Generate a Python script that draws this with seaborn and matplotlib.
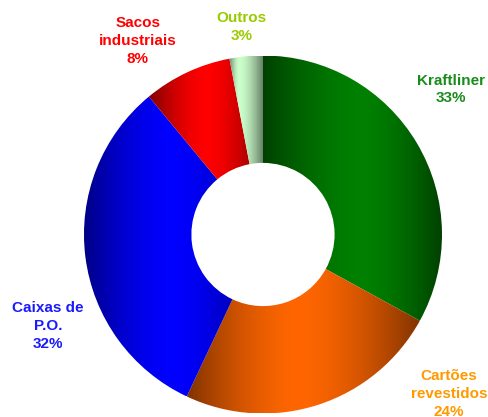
import numpy as np
import matplotlib
matplotlib.use("Agg")
import matplotlib.pyplot as plt
import matplotlib.colors as mcolors
import seaborn as sns

# dados
segments = ["Kraftliner", "Cartões\nrevestidos", "Caixas de\nP.O.", "Sacos\nindustriais", "Outros"]
shares = [33, 24, 32, 8, 3]

# estilo
fill_colors = ["#008000", "#ff6600", "#0000ff", "#ff0000", "#ccffcc"]
label_colors = ["#1a8c1a", "#ff9900", "#1a1aff", "#ff0000", "#99cc00"]
gradient_peak = [0.55, 0.48, 0.5, 0.5, 0.3]
# posicao dos rotulos (raio externo = 1)
label_pos = [(1.05, 0.81), (1.04, -0.89), (-1.20, -0.51), (-0.70, 1.08), (-0.12, 1.16)]

sns.set_theme(style="white")
plt.rcParams['font.family'] = ['Liberation Sans', 'DejaVu Sans']


def shade(color, peak, n=256):
    # gradiente horizontal: escuro nas bordas, claro no pico
    t = np.linspace(0, 1, n)
    d = np.where(t < peak, (peak - t) / peak, (t - peak) / (1 - peak))
    f = 1 - 0.5 * d ** 1.6
    rgb = np.array(mcolors.to_rgb(color))
    return (rgb[None, :] * f[:, None])[None, :, :]


fig = plt.figure(figsize=(4.88, 4.17), dpi=100)
ax = fig.add_axes([0.1721, 0.0084, 0.7336, 0.8585])

wedges, _ = ax.pie(shares, startangle=90, counterclock=False, radius=1,
                   wedgeprops=dict(width=0.6, linewidth=0))

for w, c, pk in zip(wedges, fill_colors, gradient_peak):
    v = w.get_path().vertices
    x0, x1 = v[:, 0].min(), v[:, 0].max()
    y0, y1 = v[:, 1].min(), v[:, 1].max()
    im = ax.imshow(shade(c, pk), extent=(x0, x1, y0, y1), aspect='auto',
                   interpolation='bilinear', zorder=2)
    im.set_clip_path(w)
    w.set_facecolor('none')
    w.set_edgecolor('none')

for seg, sh, col, (x, y) in zip(segments, shares, label_colors, label_pos):
    ax.text(x, y, f"{seg}\n{sh}%", ha='center', va='center', color=col,
            fontsize=11, fontweight='bold', linespacing=1.35, clip_on=False)

ax.set_xlim(-1, 1)
ax.set_ylim(-1, 1)
ax.set_aspect('auto')
ax.axis('off')

plt.savefig("out.png", dpi=100)
plt.close()
